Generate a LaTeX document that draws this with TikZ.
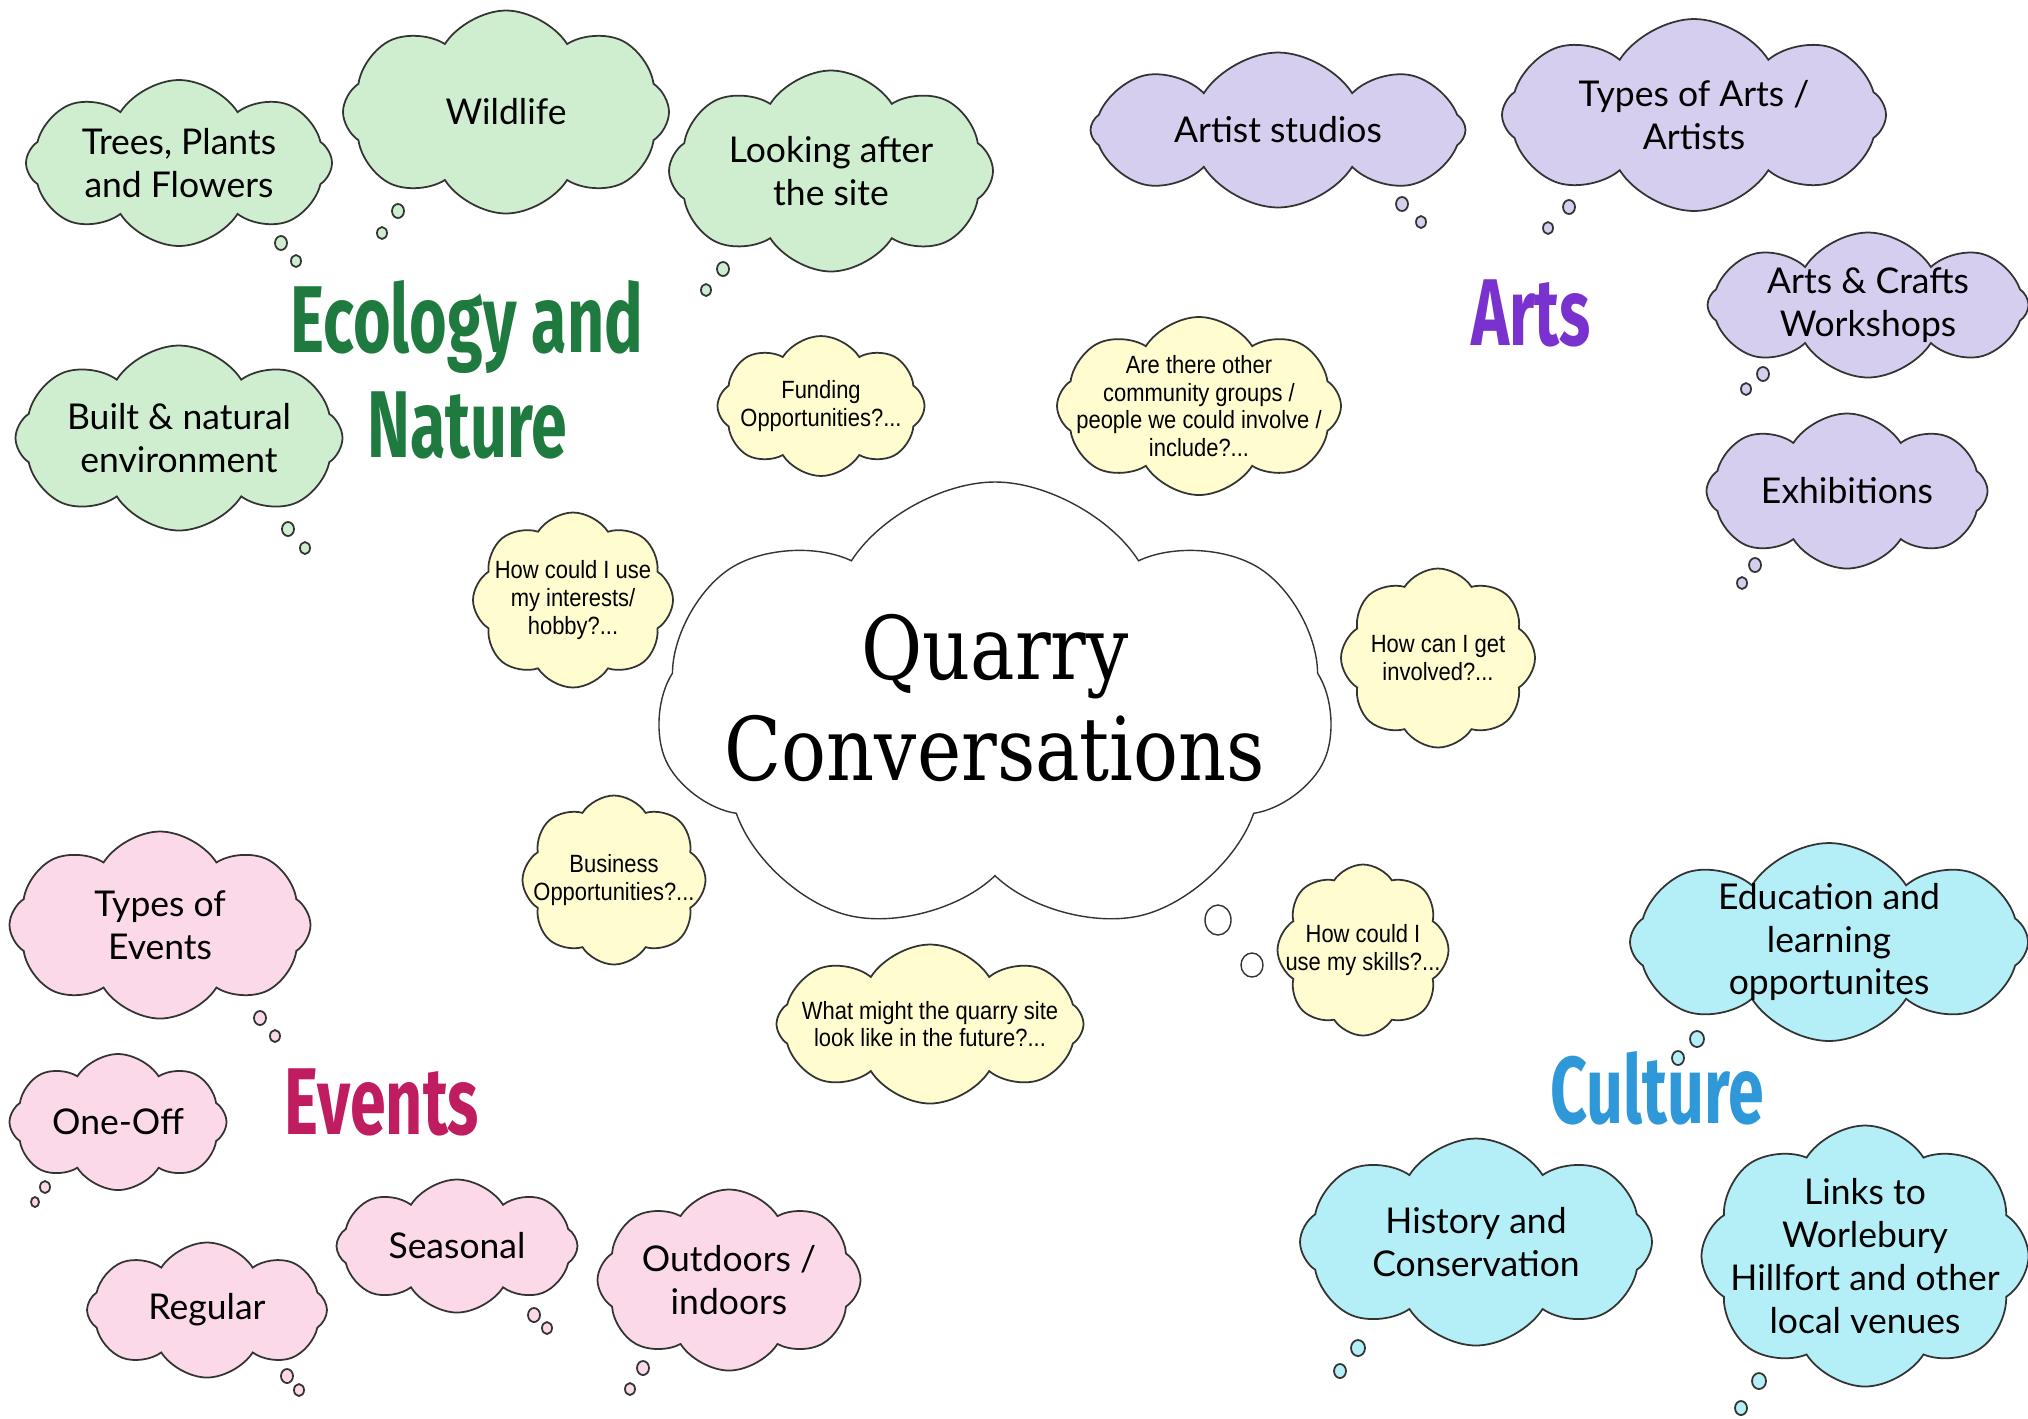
\documentclass[tikz,border=0pt]{standalone}
\usepackage{fontspec}
\setmainfont{Lato}
\newfontfamily\titlefont[FakeStretch=0.68]{Fira Sans}
\newfontfamily\qfont[FakeStretch=0.85]{DejaVu Serif}
\newfontfamily\askfont[FakeStretch=0.88]{Liberation Sans}
\usepackage{tikz}
\usetikzlibrary{shapes.symbols}

\definecolor{ecogreen}{RGB}{207,238,207}
\definecolor{artlilac}{RGB}{214,206,238}
\definecolor{askyellow}{RGB}{255,252,208}
\definecolor{evpink}{RGB}{252,217,232}
\definecolor{culcyan}{RGB}{180,238,246}
\definecolor{ecotitle}{RGB}{30,122,62}
\definecolor{arttitle}{RGB}{122,50,206}
\definecolor{evtitle}{RGB}{192,28,96}
\definecolor{cultitle}{RGB}{46,152,216}

\begin{document}
\begin{tikzpicture}[x=0.1mm,y=-0.1mm,
  thought/.style={cloud, cloud puffs=8, cloud puff arc=115, cloud ignores aspect,
    draw=black!80, line width=0.5pt, inner xsep=-3mm, inner ysep=-1mm, align=center,
    font=\fontsize{10.1}{12.2}\selectfont},
  sz/.style 2 args={minimum width=#1*0.1mm, minimum height=#2*0.1mm},
  eco/.style={thought, fill=ecogreen},
  art/.style={thought, fill=artlilac},
  ev/.style={thought, fill=evpink},
  cul/.style={thought, fill=culcyan},
  ask/.style={thought, fill=askyellow, font=\askfont\fontsize{7.1}{7.9}\selectfont},
  bub/.style={draw=black!80, line width=0.5pt},
  topic/.style={align=center, font=\titlefont\bfseries\fontsize{27}{29.8}\selectfont}]
\useasboundingbox (0,0) rectangle (2028,1418);

% centre
\node[thought, sz={675}{456}, line width=0.4pt, cloud puffs=7,
  inner xsep=-12mm, inner ysep=-5mm,
  font=\qfont\fontsize{25}{28.7}\selectfont] (quarry) at (995,710) {Quarry\\Conversations\\[-7.6mm]};

% ecology and nature
\node[eco, sz={306}{166}] (trees) at (179,163) {Trees, Plants\\and Flowers};
\node[eco, sz={326}{203}] (wild) at (506,112) {Wildlife};
\node[eco, sz={324}{201}] (site) at (831,171) {Looking after\\the site};
\node[eco, sz={327}{185}] (built) at (179,438) {Built \& natural\\environment};
\node[topic, text=ecotitle] (ecol) at (467,370) {Ecology and\\Nature};

% arts
\node[art, sz={375}{155}] (studio) at (1278,130) {Artist studios};
\node[art, sz={384}{192}] (types) at (1694,115) {Types of Arts /\\Artists};
\node[art, sz={321}{145}] (craft) at (1868,305) {Arts \& Crafts\\Workshops};
\node[art, sz={281}{155}] (exhib) at (1847,491) {Exhibitions};
\node[topic, text=arttitle] (arts) at (1531,313) {Arts};

% events
\node[ev, sz={301}{187}] (evtypes) at (160,925) {Types of\\Events};
\node[ev, sz={217}{136}] (oneoff) at (118,1122) {One-Off};
\node[ev, sz={241}{133}] (season) at (457,1246) {Seasonal};
\node[ev, sz={240}{135}] (regular) at (207,1310) {Regular};
\node[ev, sz={263}{181}] (outdoor) at (729,1280) {Outdoors /\\indoors};
\node[topic, text=evtitle] (events) at (382,1102) {Events};

% culture
\node[cul, sz={398}{198}] (educ) at (1829,942) {Education and\\learning\\opportunites};
\node[cul, sz={352}{207}] (hist) at (1476,1242) {History and\\Conservation};
\node[cul, sz={327}{261}, inner xsep=-6mm, inner ysep=-4mm] (links) at (1865,1256) {Links to\\Worlebury\\Hillfort and other\\local venues};
\node[topic, text=cultitle] (culture) at (1657,1088) {Culture};

% questions
\node[ask, sz={207}{140}] (fund) at (821,406) {Funding\\Opportunities?...};
\node[ask, sz={284}{178}, inner xsep=-5mm, inner ysep=-3mm] (groups) at (1199,406) {Are there other\\community groups /\\people we could involve /\\include?...};
\node[ask, sz={200}{175}] (hobby) at (573,600) {How could I use\\my interests/\\hobby?...};
\node[ask, sz={194}{179}] (involve) at (1438,658) {How can I get\\involved?...};
\node[ask, sz={183}{169}] (business) at (614,880) {Business\\Opportunities?...};
\node[ask, sz={171}{171}] (skills) at (1363,950) {How could I\\use my skills?...};
\node[ask, sz={307}{159}, inner xsep=-5mm] (future) at (930,1024) {What might the quarry site\\look like in the future?...};

% thought bubbles
\foreach \x/\y/\r in {281/243/6, 296/261/5, 398/211/6, 382/233/5, 723/269/6, 706/290/5, 288/529/6, 305/548/5}
  \draw[bub, fill=ecogreen] (\x,\y) ellipse [x radius=\r, y radius=\r+1];
\foreach \x/\y/\r in {1402/204/6, 1421/222/5, 1569/207/6, 1548/228/5, 1763/374/6, 1746/389/5, 1755/565/6, 1742/583/5}
  \draw[bub, fill=artlilac] (\x,\y) ellipse [x radius=\r, y radius=\r+1];
\foreach \x/\y/\r in {260/1018/6, 275/1036/5, 45/1187/5, 35/1202/4, 534/1315/6, 547/1328/5, 287/1376/6, 299/1390/5, 643/1368/6, 630/1389/5}
  \draw[bub, fill=evpink] (\x,\y) ellipse [x radius=\r, y radius=\r+1];
\foreach \x/\y/\r in {1697/1039/7, 1678/1058/6, 1358/1348/7, 1340/1371/6, 1759/1381/7, 1741/1408/6}
  \draw[bub, fill=culcyan] (\x,\y) ellipse [x radius=\r, y radius=\r+1];
\draw[bub, line width=0.4pt, fill=white] (1218,920) ellipse [x radius=13, y radius=15];
\draw[bub, line width=0.4pt, fill=white] (1252,965) ellipse [x radius=11, y radius=12];

\end{tikzpicture}
\end{document}
